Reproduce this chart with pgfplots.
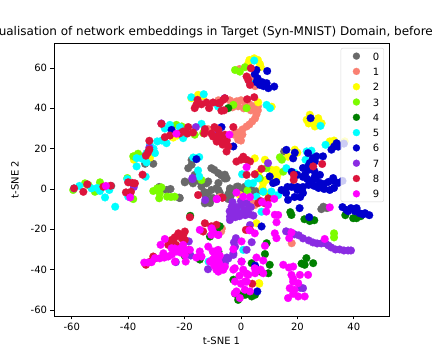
\documentclass[border=0pt]{standalone}
\usepackage{pgfplots}
\pgfplotsset{compat=1.18}
\usepackage{fontspec}
\setmainfont{DejaVu Sans}
\definecolor{c0}{HTML}{696969}
\definecolor{c1}{HTML}{FA8072}
\definecolor{c2}{HTML}{FFFF00}
\definecolor{c3}{HTML}{7CFC00}
\definecolor{c4}{HTML}{008000}
\definecolor{c5}{HTML}{00FFFF}
\definecolor{c6}{HTML}{0000CD}
\definecolor{c7}{HTML}{8A2BE2}
\definecolor{c8}{HTML}{DC143C}
\definecolor{c9}{HTML}{FF00FF}
\pgfplotsset{pts/.style={only marks,mark=*,mark size=3.9bp,color=#1,mark options={draw=#1,fill=#1,line width=0.2bp,fill opacity=1,draw opacity=1}}}
\begin{document}
\begin{tikzpicture}[x=1bp,y=1bp]
\clip (0,0) rectangle (432,360);
\begin{axis}[
  at={(54bp,44bp)}, anchor=south west,
  scale only axis, width=335bp, height=273bp,
  xmin=-66.3, xmax=52.5, ymin=-63, ymax=72.4,
  xtick={-60,-40,-20,0,20,40}, ytick={-60,-40,-20,0,20,40,60},
  tick align=outside, tick pos=left,
  axis line style={line width=0.8bp}, tick style={line width=0.8bp,black},
  major tick length=3.5bp,
  font=\fontsize{10bp}{12bp}\selectfont,
  /pgf/number format/assume math mode=true,
  title={Visualisation of network embeddings in Target (Syn-MNIST) Domain, before},
  title style={at={(0.5,1)},anchor=base,yshift=1.5bp,xshift=-14.5bp,inner sep=0pt,font=\fontsize{12bp}{14bp}\selectfont},
  xlabel={t-SNE 1}, ylabel={t-SNE 2},
  ylabel style={yshift=5bp},
  legend cell align=left,
  legend image code/.code={\path[draw=none] (0bp,0bp) -- (27.5bp,0bp);\path[#1,draw=none,mark size=3.5bp] plot coordinates {(13.5bp,0bp)};},
  legend style={at={(0.985,0.982)},anchor=north east,draw=black!15,fill=white,fill opacity=0.8,text opacity=1,draw opacity=1,rounded corners=2bp,font=\fontsize{10bp}{12bp}\selectfont,row sep=7.3bp,inner xsep=2bp,inner ysep=4bp,nodes={text height=8bp,text depth=0bp,inner ysep=0pt,inner xsep=2.5bp}},
]
\addplot[pts=c0] coordinates {(-31.1,12.5)(-34,12.5)(-35,16)(-17.5,14.4)(-18.7,10.3)(-17.5,12)(-19.9,3.7)(-17.5,3.7)(-14,1.2)(-11.6,3.7)(-16.4,7)(-15,4)(-10.5,10.3)(-9.5,9.5)(-8.1,7.9)(-5.7,5.4)(-7,6.8)(-8.7,0.4)(-11.6,-2)(-9.9,-4.5)(-12.5,-3.5)(-10.5,-0.5)(-13,-1.5)(-7.5,-2)(-21.7,-4.5)(-4,-1.2)(-1,1.2)(5.5,-1.2)(2.5,2.1)(-4.6,-2.9)(-19.9,3.3)(-17,2.8)(-12.2,2.8)(-12.8,-7.1)(-11,-6)(-11,-7)(-46,1.5)(-26.4,-0.5)(-29,1)(-21.9,-4.3)(-28,0)(-25,0)(-5.7,5.2)(-8,-0.5)(-8,3)(-3.9,0.3)(-1.5,1.1)(1.4,1.1)(4.9,-1.4)(-2,-1)(-4.5,-5)(-3.5,-3)(29.2,-8.8)(30.5,-9.5)(28.5,-10)(15.3,18.6)(-5.7,7.1)(3.5,0.5)(0,-1)(-5.1,5.3)(-3.9,-1.3)(-3.9,-4.3)(5.3,-1.3)};
\addplot[pts=c1] coordinates {(-11.7,29.7)(-9.5,29)(-8,44)(-4,44)(-3,43)(-1.5,43.5)(0,44)(1.5,43)(3,42)(4.5,41)(6,41)(6,39)(5.5,37)(5,35)(4,33.5)(3,32)(2,31)(0.5,29.5)(-1,28)(-2.5,27)(-1,26)(0.5,27)(-1,24.5)(0,24)(-1,41)(1,40)(-3,40.5)(3.5,39)(3.5,55)(4,53)(5,51)(-0.5,59.5)(-6.9,-19.8)(-6.8,-19.5)(4,-7)(18,-26.9)(-7,-21)(-7.5,-4)(4.9,-8)};
\addplot[pts=c2] coordinates {(-15.2,46.7)(-13.5,46)(-17.6,45)(-22.5,26.5)(-24,25.5)(-37.5,16.5)(-38,14.5)(-32.3,15.5)(4.7,64.8)(6.7,62)(2.6,62.3)(6,64)(3,64)(7,60.5)(6.1,43)(10.9,40.8)(24.4,36.8)(23.3,34.3)(26.2,31)(28.6,32.6)(27.4,35.1)(25.5,33)(24,32.5)(27.5,33)(31.5,23.6)(33,24)(36.8,23.6)(4.9,15.2)(12,7.8)(10.8,9.5)(7.9,2.9)(7.6,0.4)(16.7,16)(11.5,8.7)(12.5,9.5)(6.1,7.9)(13,7)(19.1,19.5)(20,18)(8.5,14.5)(-0.4,-3)(9,4.5)(12.6,5.2)(11,6.5)(9.7,-2.2)(6.5,-47)(6.4,-46.7)(5.5,-17)};
\addplot[pts=c3] coordinates {(-22.9,31.8)(-21,31)(-16.4,26.9)(-13.4,27.7)(-38.2,16.2)(-36.5,17.5)(-59.5,-0.5)(-55.3,2.8)(-51.8,-1.4)(-50,3.3)(-54,1.8)(-40.3,5.4)(-38.2,-5)(-29.7,0.3)(-31.1,-1)(-28.8,-2.2)(-29,-4.6)(-29,-1)(-28.2,0.8)(-26.2,-3.8)(-23.5,-3.8)(-24.8,-4)(-14,4.4)(-2.1,59)(-0.4,58.2)(1.4,60.4)(-2.7,41.7)(2,40.1)(13.8,15.7)(14.5,14.5)(15,8.6)(9,10.3)(6.7,5.3)(2.3,-0.8)(7.9,-1.4)(10.3,-3.8)(33,-22)(33,-24)};
\addplot[pts=c4] coordinates {(-4.5,40.1)(-18,-13.3)(-7.5,-18.5)(-11,-23.6)(-8,-31)(-14.6,-35)(-20,-33)(17.9,-12.9)(17.5,-11.5)(24.4,-15.9)(22.5,-15)(26,-15.5)(39.8,-14.5)(42.5,-13.5)(37,-13)(41,-14.5)(9.1,-26.9)(8.5,-32.3)(23.2,-34.3)(22.6,-37.6)(21.5,-37)(25.6,-36.8)(10.2,-37.6)(9.7,-41.8)(3.8,-53.3)(-1,-55)(1.5,-52.5)(3.8,-36.8)(5,-52.5)(-1,-52)(-8.5,-20)(-2,-52)(7,-41)(0,-53)(-2.7,-45)};
\addplot[pts=c5] coordinates {(-17.6,45.5)(-13.2,47)(-8.1,40.9)(-27,30)(-25.2,31.8)(-20.5,25.2)(-21.7,30.7)(-14,32.3)(-26.4,22.7)(-29.7,23.6)(-32.3,21.9)(-33.5,17.8)(-30.5,17.8)(-37,15.3)(-37,11.2)(-33.5,13.2)(-35,15)(-28,24)(-31,20)(-14.8,15.8)(-16.9,15.6)(-15.2,9.2)(-40.3,4.9)(-14.8,6.2)(-59.2,0.3)(-57.3,1.5)(-53,0.3)(-50,-1)(-48.2,-4.2)(-46.7,-0.5)(-44.6,-8.8)(-40,-3.8)(-33.8,6.1)(-51,0.5)(4.7,63.7)(3.2,52.5)(9.1,41.7)(10.3,40.1)(28.2,31.3)(30,21.9)(0.4,7.3)(6.1,5.3)(4.3,2.9)(10.8,-1.3)(7.9,-1.3)(16.1,10.3)(22.9,14.5)(23.3,18.6)(25,19)(19,8)(7.3,-11.3)(13.2,-3)(2.6,2.8)(5.5,-3.8)(-0.4,-8.8)(0.8,-30.2)(-11.5,-36)};
\addplot[pts=c6] coordinates {(-24.6,29.3)(-6.9,30.7)(-15.8,14.8)(-2.7,21.1)(5.5,59)(9.3,58.5)(5.9,54.9)(6.7,51.6)(9.1,52.5)(11.8,50.8)(9.7,50)(4.9,57)(8,51)(5.5,53)(7.5,53)(24.7,35.1)(33.9,22.7)(32.1,19.5)(34.5,21)(36.5,22.5)(33,21)(16.1,19.4)(19.1,18)(18.5,15.2)(23.8,17.8)(25.5,15.3)(26.8,16.2)(29.1,16.2)(26.2,13.7)(24.4,12.9)(22,10.4)(24,9.5)(26,9)(28,7)(23.8,11.2)(22.7,7.1)(20,7)(18,8.5)(11.4,2.9)(10.2,6.2)(12.5,3.5)(32.7,5.4)(26.2,6.2)(14.4,-0.5)(16.5,1)(18,1)(20,1)(16,-2)(16.7,-5.4)(19,-4)(21,-4)(22,-2)(20,-0.5)(22,1)(24,2)(25,4)(26.5,5)(28,3)(29.5,2.5)(31,3.5)(33,4)(34.5,3)(33,0.5)(31.5,-0.5)(29.5,0)(27.5,0.5)(26,1.5)(23.5,5)(22,6)(20.8,-9.5)(37.4,-10.4)(38,-11)(39,-9.5)(41,-9.5)(40.4,-11)(42,-12)(44,-12)(43.3,-12.6)(45.5,-13)(24.2,-14)(36,-9)(5.8,-50.8)(7.3,-18.6)(36,4)(5,-38)};
\addplot[pts=c7] coordinates {(-28.2,32.5)(-16,30.7)(-8,28.5)(-32.5,20.5)(-17.2,5.4)(-17.2,4.9)(-12.7,-5.5)(-5.8,45)(9.6,12.8)(-38,1)(-3.9,-13.7)(-3.3,-8.8)(-0.4,-12.1)(2,-10.4)(4.4,-13.2)(0.2,-8)(2,-7.1)(-2,-11)(-3.9,-15.4)(-3,-12)(1,-11)(-4,-11)(-1.5,-9)(-2,-14)(-0.5,-13.5)(1.5,-13)(3,-12.5)(3.5,-9)(-3,-6.5)(0,-6)(16,-21)(17.5,-21.5)(19,-22.5)(20.5,-23)(22,-24.5)(24,-25.5)(25.5,-26.5)(27,-27)(28.5,-27)(30,-27)(31,-28)(32,-29)(33.5,-30)(35,-30)(36.5,-30.5)(38,-30.5)(39,-30.5)(-1.8,-24.4)(-2.1,-28.6)(-2.5,-26.5)(-2.7,-31.9)(3.8,-26.4)(2,-30.2)(3.2,-17.9)(-5.7,-36.8)(-5.7,-35.2)(-5,-34)(0.2,-36)(22,-49.2)(-2.7,-32.7)(-23.1,-36.3)(-18.5,-26)(-17.8,-33)(-11.7,-39.8)(-4.5,-34.5)(21,-49)};
\addplot[pts=c8] coordinates {(-15.4,44.2)(-16.4,40.1)(-15.8,41.8)(-11.3,40.1)(-12.2,42.9)(-9.9,42.9)(-7.5,42.5)(-6.3,44.2)(-6.9,38.8)(-14,42)(-28.2,32.3)(-27,25.7)(-25.2,26.5)(-20.5,28.5)(-18.7,30.7)(-17,28)(-19,27.5)(-21.8,27.5)(-12.8,29.7)(-13,27.5)(-9.4,30.7)(-9.9,26)(-10.5,27.5)(-7.5,24.4)(-5.8,22.7)(-8.5,26)(-7,26.5)(-32.5,23.9)(-32.5,19.5)(-33.7,16.5)(-33,18)(-34.9,7.1)(-59.2,0.3)(-55.9,-1.4)(-54.5,2.3)(-48.8,1.1)(-46.2,1.6)(-40,3.3)(-37.6,2.8)(-38.5,3)(-40.8,-1.7)(-39,-1.4)(-15.2,-3)(-6.6,-4.3)(-18.1,-14)(-34,-36.8)(-33.7,-37.6)(-31.1,-33.5)(-30.5,-34.4)(-32,-36)(-25.8,-27.7)(-24,-25.3)(-24.6,-25.3)(-22.2,-22)(-23.5,-24)(-19.9,-21.1)(-19.9,-25.3)(-21,-24.5)(-20.5,-23)(-23,-27.7)(-12.8,-17)(-8.7,-17.8)(-13.4,-21.1)(-10.5,-18.5)(-18.4,-30.2)(-5.7,45)(-8,42.6)(-6,39)(2.2,44.5)(4.7,45.5)(-2.7,30.7)(-5.7,26.9)(-7.4,24.4)(-4.5,21.1)(-5.1,18.6)(-6.5,22)(-8,29.4)(-8.6,23.5)(-5,24)(3.5,59.9)(2,55.8)(3.2,51.6)(2.6,54)(0.8,16)(-1.6,13.6)(0,14.5)(2,14.5)(3.2,13.6)(2,7)(4.9,7.3)(7.3,10)(18.7,4.5)(18.7,7)(25.6,11.2)(28.8,12.4)(6.1,-7)(8.5,-7.1)(7,-6)(9.7,-4.7)(-6.6,-4.3)(1.75,-20.3)(3.2,-20.3)(4,-47)};
\addplot[pts=c9] coordinates {(-22.9,27.4)(-4.1,26.9)(2,10.8)(-47.9,1.5)(-39.3,-4.2)(-8.5,-5)(-34.3,-36.5)(-31.7,-36.3)(-33,-36.5)(-30.5,-34.3)(-28.8,-34.4)(-27.2,-34)(-27.5,-31.9)(-25.8,-33.5)(-24.6,-29.4)(-24.5,-32.5)(-22.9,-31)(-21.6,-30.2)(-21.5,-31.5)(-19.9,-32.7)(-20.5,-27.7)(-21.5,-29.5)(-23.5,-29.5)(-20,-30)(-27,-24.8)(-28.5,-27.7)(-19.6,-36)(-23.4,-36)(-14.6,-31)(-14,-33.5)(-15.8,-34)(-18.1,-30.2)(-14.6,-20.3)(-10.4,-19.5)(-9.9,-21.2)(-10.5,-22.8)(-8.1,-22.8)(-11.6,-28.6)(-9.2,-31)(-8.1,-30.2)(-9.3,-33.5)(-8.7,-34.3)(-7.5,-33)(-10,-31)(-11,-36)(-10,-35)(-8,-36)(-7.5,-37.6)(-8.7,-39.3)(-8.7,-40.1)(-6.3,-40.1)(-9.5,-38)(-1.6,-1.8)(-8.6,-5)(3.2,-4)(0.8,-3.8)(11.8,-4.9)(9.6,-7.9)(9,-11.2)(12,-12.8)(13.2,-12.9)(7.5,-6.5)(12.6,-16.5)(31.5,-9.1)(12,-22)(12.6,-24.4)(17.1,-24.4)(17.9,-21.6)(29.7,-24.8)(4.9,-22)(3,-20.5)(-8,-22.8)(0.2,-26)(-2.7,-29.9)(8.5,-28.2)(5.5,-34)(7.9,-35.5)(0.2,-36)(-5.7,-38.5)(-2.7,-40)(0.8,-40)(4.9,-39.3)(7.9,-41.8)(2.6,-42.6)(5,-41.8)(7,-40)(-2.1,-45.9)(1.4,-45.9)(-1.6,-50.8)(-0.4,-54.1)(3.2,-50.8)(1.4,-50)(0,-47)(2,-46)(2,-42)(-0.5,-43)(15,-37.6)(18.5,-38.5)(17,-39)(17.9,-42.6)(20.9,-42.6)(23.8,-42.6)(17.3,-49.2)(20.3,-46.7)(18.5,-46)(18.5,-44.5)(16.7,-54.1)(20.3,-53.3)(22.6,-53.3)(18.5,-52)(19,-50)(-2.2,-51.7)(-2.2,-39.3)(-8,-41)};
\legend{0,1,2,3,4,5,6,7,8,9}
\end{axis}
\end{tikzpicture}
\end{document}
